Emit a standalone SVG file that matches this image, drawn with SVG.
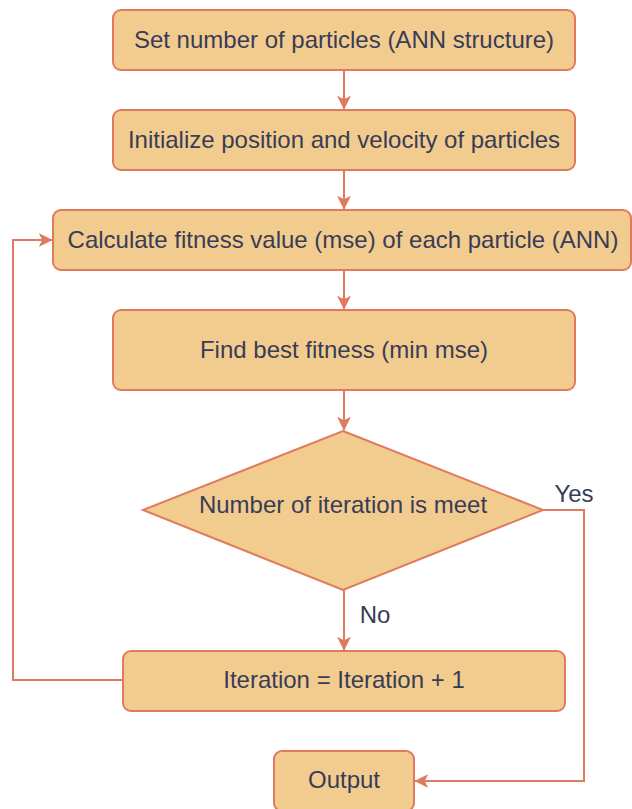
<svg xmlns="http://www.w3.org/2000/svg" width="632" height="809" viewBox="0 0 632 809">
<style>
.n{fill:#F2CC8F;stroke:#E07A5F;stroke-width:2}
.t{font-family:"Liberation Sans",Arial,sans-serif;font-size:24px;fill:#393C56;text-anchor:middle;dominant-baseline:central}
.e{fill:none;stroke:#E07A5F;stroke-width:2}
</style>
<defs>
<marker id="a" viewBox="0 0 10 10" refX="9.5" refY="5" markerWidth="7" markerHeight="7" orient="auto" markerUnits="strokeWidth">
<path d="M0,0 L10,5 L0,10 L2.5,5 Z" fill="#E07A5F"/>
</marker>
</defs>
<rect width="632" height="809" fill="#fff"/>
<g id="connectors">
<path class="e" d="M344,70 V109" marker-end="url(#a)"/>
<path class="e" d="M344,170 V209" marker-end="url(#a)"/>
<path class="e" d="M344,270 V309" marker-end="url(#a)"/>
<path class="e" d="M344,390 V430" marker-end="url(#a)"/>
<path class="e" d="M344,590 V650" marker-end="url(#a)"/>
<path class="e" d="M123,680 H13 V240 H52" marker-end="url(#a)"/>
<path class="e" d="M543,510 H584 V781 H415" marker-end="url(#a)"/>
<text class="t" x="574" y="493">Yes</text>
<text class="t" x="375" y="614">No</text>
</g>
<g id="n1"><rect class="n" x="113" y="10" width="462" height="60" rx="8"/><text class="t" x="344" y="39">Set number of particles (ANN structure)</text></g>
<g id="n2"><rect class="n" x="113" y="110" width="462" height="60" rx="8"/><text class="t" x="344" y="139">Initialize position and velocity of particles</text></g>
<g id="n3"><rect class="n" x="53" y="210" width="578" height="60" rx="8"/><text class="t" x="343" y="239">Calculate fitness value (mse) of each particle (ANN)</text></g>
<g id="n4"><rect class="n" x="113" y="310" width="462" height="80" rx="8"/><text class="t" x="344" y="349">Find best fitness (min mse)</text></g>
<g id="n5"><path class="n" d="M343,431 L543,510 L343,590 L143,510 Z"/><text class="t" x="343" y="504">Number of iteration is meet</text></g>
<g id="n6"><rect class="n" x="123" y="651" width="442" height="60" rx="8"/><text class="t" x="344" y="679">Iteration = Iteration + 1</text></g>
<g id="n7"><rect class="n" x="274" y="751" width="140" height="60" rx="8"/><text class="t" x="344" y="779">Output</text></g>
</svg>
